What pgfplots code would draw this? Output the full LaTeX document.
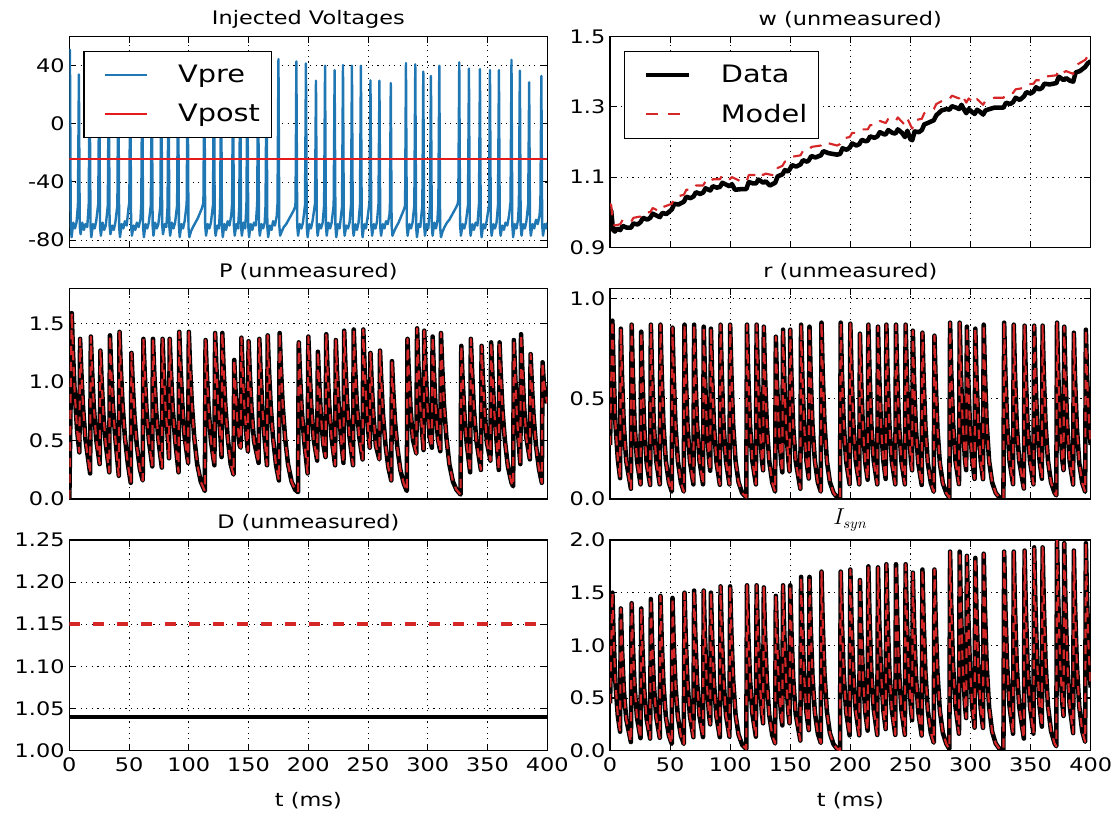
\documentclass[border=0pt]{standalone}
\usepackage{fontspec}
\setmainfont{DejaVu Sans}[FakeStretch=1.2]
\usepackage{pgfplots}
\usepackage{pgfplotstable}
\pgfplotsset{compat=1.18}

\definecolor{vblue}{HTML}{1F77B4}
\definecolor{vred}{HTML}{E41A1C}
\definecolor{mred}{HTML}{D62728}
\newcommand{\tf}{\fontsize{14}{16}\selectfont}
\newcommand{\lf}{\fontsize{18}{21}\selectfont}

% spike-driven traces, shared time grid: P, r, I_syn
\pgfplotstableread[row sep=\\]{
t P r I\\
0 0 .27 .45\\ 2 1.59 .89 1.50\\ 3 1.27 .64 1.08\\ 4.5 .91 .38 .65\\ 6.5 .59 .20 .33\\
8.4 .40 .105 .18\\ 9 1.37 .85 1.35\\ 10 1.10 .61 .97\\ 11.5 .78 .37 .58\\ 13.5 .51 .19 .30\\
17.4 .22 .052 .082\\ 18 1.39 .87 1.40\\ 19 1.11 .63 1.01\\ 20.5 .79 .37 .60\\ 22.5 .51 .19 .31\\
25.4 .30 .074 .119\\ 26 1.27 .835 1.35\\ 27 1.02 .60 .97\\ 28.5 .72 .36 .58\\ 30.5 .47 .18 .30\\
33.4 .23 .071 .115\\ 34 1.40 .87 1.44\\ 35 1.12 .63 1.04\\ 36.5 .80 .37 .62\\ 38.5 .52 .19 .32\\
41.4 .20 .074 .122\\ 42 1.43 .87 1.47\\ 43 1.14 .63 1.06\\ 44.5 .82 .37 .63\\ 46.5 .53 .19 .32\\ 49 .30 .084 .143\\
51.4 .14 .038 .065\\ 52 1.25 .855 1.45\\ 53 1.00 .62 1.04\\ 54.5 .71 .37 .62\\ 56.5 .46 .19 .32\\ 59 .26 .083 .141\\
61.4 .16 .038 .064\\ 62 1.37 .87 1.50\\ 63 1.10 .63 1.08\\ 64.5 .78 .37 .65\\ 66.5 .51 .19 .33\\
69.4 .28 .074 .128\\ 70 1.37 .87 1.52\\ 71 1.10 .63 1.09\\ 72.5 .78 .37 .65\\ 74.5 .51 .19 .33\\
77.4 .27 .074 .129\\ 78 1.37 .86 1.52\\ 79 1.10 .62 1.09\\ 80.5 .78 .37 .65\\ 82.5 .51 .19 .33\\
83.4 .35 .142 .25\\ 84 1.37 .85 1.50\\ 85 1.10 .61 1.08\\ 86.5 .78 .37 .65\\ 88.5 .51 .19 .33\\
91.4 .23 .072 .128\\ 92 1.43 .87 1.56\\ 93 1.14 .63 1.12\\ 94.5 .82 .37 .67\\ 96.5 .53 .19 .34\\
99.4 .31 .074 .133\\ 100 1.43 .87 1.56\\ 101 1.14 .63 1.12\\ 102.5 .82 .37 .67\\ 104.5 .53 .19 .34\\ 107 .30 .084 .151\\ 110 .15 .031 .056\\
113.4 .07 .009 .016\\ 114 1.36 .87 1.57\\ 115 1.09 .63 1.13\\ 116.5 .78 .37 .68\\ 118.5 .50 .19 .35\\
121.4 .29 .074 .133\\ 122 1.42 .87 1.57\\ 123 1.14 .63 1.13\\ 124.5 .81 .37 .68\\ 126.5 .53 .19 .35\\
127.4 .36 .144 .26\\ 128 1.42 .86 1.55\\ 129 1.14 .62 1.12\\ 130.5 .81 .37 .67\\ 132.5 .53 .19 .34\\ 135 .30 .083 .150\\
137.4 .21 .038 .068\\ 138 1.19 .81 1.47\\ 139 .95 .58 1.06\\ 140.5 .68 .35 .63\\ 142.5 .46 .18 .32\\
143.4 .44 .134 .24\\ 144 1.38 .845 1.57\\ 145 1.10 .61 1.13\\ 146.5 .79 .36 .68\\ 148.5 .51 .19 .35\\
149.4 .41 .139 .26\\ 150 1.35 .845 1.57\\ 151 1.08 .61 1.13\\ 152.5 .77 .36 .68\\ 154.5 .50 .19 .35\\
158.4 .31 .052 .096\\ 159 1.37 .87 1.65\\ 160 1.10 .63 1.19\\ 161.5 .78 .37 .71\\ 163.5 .51 .19 .36\\
165.4 .29 .103 .195\\ 166 1.40 .86 1.65\\ 167 1.12 .62 1.19\\ 168.5 .80 .37 .71\\ 170.5 .52 .19 .36\\ 173 .29 .083 .160\\
175.4 .16 .038 .073\\ 176 1.42 .88 1.70\\ 177 1.14 .63 1.22\\ 178.5 .81 .38 .73\\ 180.5 .53 .19 .37\\ 183 .30 .085 .165\\ 186 .15 .032 .061\\ 189 .08 .009 .017\\
191.4 .06 .004 .008\\ 192 1.34 .88 1.70\\ 193 1.07 .63 1.22\\ 194.5 .76 .38 .73\\ 196.5 .50 .19 .37\\
199.4 .22 .075 .145\\ 200 1.39 .875 1.72\\ 201 1.11 .63 1.24\\ 202.5 .79 .38 .74\\ 204.5 .51 .19 .38\\
207.4 .33 .074 .146\\ 208 1.26 .825 1.62\\ 209 1.01 .59 1.17\\ 210.5 .72 .35 .70\\ 212.5 .47 .18 .36\\
214.4 .36 .097 .19\\ 215 1.41 .87 1.75\\ 216 1.13 .63 1.26\\ 217.5 .80 .37 .75\\ 219.5 .52 .19 .39\\
222.4 .29 .074 .149\\ 223 1.36 .86 1.74\\ 224 1.09 .62 1.25\\ 225.5 .78 .37 .75\\ 227.5 .50 .19 .38\\
229.4 .31 .101 .205\\ 230 1.44 .87 1.77\\ 231 1.15 .63 1.27\\ 232.5 .82 .37 .76\\ 234.5 .53 .19 .39\\
237.4 .29 .074 .150\\ 238 1.45 .87 1.77\\ 239 1.16 .63 1.27\\ 240.5 .83 .37 .76\\ 242.5 .54 .19 .39\\
245.4 .34 .074 .150\\ 246 1.45 .87 1.77\\ 247 1.16 .63 1.27\\ 248.5 .83 .37 .76\\ 250.5 .54 .19 .39\\
251.4 .44 .144 .29\\ 252 1.25 .84 1.69\\ 253 1.00 .60 1.22\\ 254.5 .71 .36 .73\\ 256.5 .46 .18 .37\\
259.4 .34 .071 .144\\ 260 1.27 .83 1.72\\ 261 1.02 .60 1.24\\ 262.5 .72 .36 .74\\ 264.5 .47 .18 .38\\ 267 .27 .081 .167\\
269.4 .16 .037 .076\\ 270 1.18 .815 1.72\\ 271 .94 .59 1.24\\ 272.5 .67 .35 .74\\ 274.5 .44 .18 .38\\ 277 .25 .079 .167\\ 280 .13 .029 .062\\
282.4 .07 .008 .017\\ 283 1.37 .88 1.89\\ 284 1.10 .63 1.36\\ 285.5 .78 .38 .81\\ 287.5 .51 .19 .42\\
290.4 .39 .075 .161\\ 291 1.46 .88 1.89\\ 292 1.17 .63 1.36\\ 293.5 .83 .38 .81\\ 295.5 .54 .19 .42\\
296.4 .42 .145 .31\\ 297 1.44 .86 1.85\\ 298 1.15 .62 1.33\\ 299.5 .82 .37 .80\\ 301.5 .53 .19 .41\\
303.4 .44 .101 .218\\ 304 1.39 .85 1.83\\ 305 1.11 .61 1.32\\ 306.5 .79 .37 .79\\ 308.5 .51 .19 .40\\
310.4 .41 .100 .216\\ 311 1.42 .87 1.87\\ 312 1.14 .63 1.35\\ 313.5 .81 .37 .80\\ 315.5 .53 .19 .41\\ 318 .30 .084 .181\\ 321 .15 .031 .067\\ 324 .08 .009 .019\\
327.4 .04 .003 .006\\ 328 1.31 .88 1.89\\ 329 1.05 .63 1.36\\ 330.5 .75 .38 .81\\ 332.5 .48 .19 .42\\
335.4 .23 .075 .161\\ 336 1.37 .87 1.89\\ 337 1.10 .63 1.36\\ 338.5 .78 .37 .81\\ 340.5 .51 .19 .42\\
344.4 .25 .053 .115\\ 345 1.31 .865 1.90\\ 346 1.05 .62 1.37\\ 347.5 .75 .37 .82\\ 349.5 .48 .19 .42\\
352.4 .33 .074 .162\\ 353 1.34 .865 1.93\\ 354 1.07 .62 1.39\\ 355.5 .76 .37 .83\\ 357.5 .50 .19 .42\\
359.4 .25 .102 .228\\ 360 1.34 .865 1.93\\ 361 1.07 .62 1.39\\ 362.5 .76 .37 .83\\ 364.5 .50 .19 .42\\ 367 .28 .084 .187\\ 370 .14 .031 .069\\
371.4 .11 .019 .042\\ 372 1.36 .88 2.00\\ 373 1.09 .63 1.44\\ 374.5 .72 .38 .86\\ 376.5 .42 .19 .44\\
377.4 .30 .145 .33\\ 378 1.41 .86 1.97\\ 379 1.13 .62 1.42\\ 380.5 .80 .37 .85\\ 382.5 .52 .19 .43\\
385.4 .34 .073 .167\\ 386 1.24 .83 1.90\\ 387 .99 .60 1.37\\ 388.5 .71 .36 .82\\ 390.5 .46 .18 .42\\ 393 .26 .081 .184\\
395.4 .14 .037 .084\\ 396 1.17 .845 1.97\\ 397 1.00 .61 1.42\\ 398.5 .90 .40 .90\\ 400 .82 .27 .60\\
}\spk

% presynaptic voltage
\pgfplotstableread[row sep=\\]{
t V\\
0 35\\ 0.5 51\\ 1.2 -70\\ 1.9 -78\\ 3.3 -68\\ 4.7 -72\\ 6 -68\\
7.2 -56\\ 8 34\\ 8.7 -70\\ 9.4 -76\\ 10.8 -68\\ 12.2 -73\\ 13.5 -69\\ 15 -71\\
16.2 -56\\ 17 40\\ 17.7 -70\\ 18.4 -78\\ 19.8 -69\\ 21.2 -72\\ 22.5 -67\\
24.2 -55\\ 25 38\\ 25.7 -71\\ 26.4 -77\\ 27.8 -68\\ 29.2 -73\\ 30.5 -70\\
32.2 -56\\ 33 40\\ 33.7 -70\\ 34.4 -76\\ 35.8 -70\\ 37.2 -73\\ 38.5 -68\\
40.2 -56\\ 41 42\\ 41.7 -71\\ 42.4 -78\\ 43.8 -69\\ 45.2 -72\\ 46.5 -67\\ 48 -70\\ 49.5 -58\\
50.2 -54\\ 51 38\\ 51.7 -70\\ 52.4 -77\\ 53.8 -70\\ 55.2 -73\\ 56.5 -68\\ 58 -71\\ 59.5 -66\\
60.2 -55\\ 61 40\\ 61.7 -71\\ 62.4 -78\\ 63.8 -69\\ 65.2 -72\\ 66.5 -68\\
68.2 -56\\ 69 41\\ 69.7 -70\\ 70.4 -77\\ 71.8 -68\\ 73.2 -72\\ 74.5 -69\\
76.2 -56\\ 77 40\\ 77.7 -70\\ 78.4 -76\\ 79.8 -69\\ 81.2 -71\\
82.2 -57\\ 83 38\\ 83.7 -71\\ 84.4 -77\\ 85.8 -68\\ 87.2 -72\\ 88.5 -68\\
90.2 -56\\ 91 42\\ 91.7 -70\\ 92.4 -78\\ 93.8 -69\\ 95.2 -72\\ 96.5 -67\\
98.2 -55\\ 99 41\\ 99.7 -71\\ 100.4 -78\\ 101.8 -74\\ 103.5 -71\\ 105.5 -68\\ 107.5 -65\\ 109.5 -61\\ 111 -58\\
112.2 -54\\ 113 40\\ 113.7 -70\\ 114.4 -77\\ 115.8 -69\\ 117.2 -72\\ 118.5 -68\\
120.2 -56\\ 121 42\\ 121.7 -71\\ 122.4 -77\\ 123.8 -70\\ 125.2 -72\\
126.2 -57\\ 127 40\\ 127.7 -70\\ 128.4 -78\\ 129.8 -69\\ 131.2 -73\\ 132.5 -67\\ 134 -70\\ 135.5 -63\\
136.2 -55\\ 137 36\\ 137.7 -70\\ 138.4 -77\\ 139.8 -69\\ 141.2 -72\\
142.2 -57\\ 143 40\\ 143.7 -71\\ 144.4 -77\\ 145.8 -68\\ 147.2 -72\\
148.2 -56\\ 149 38\\ 149.7 -70\\ 150.4 -78\\ 151.8 -69\\ 153.2 -73\\ 154.5 -68\\ 156 -70\\
157.2 -55\\ 158 40\\ 158.7 -70\\ 159.4 -77\\ 160.8 -69\\ 162.2 -72\\ 163.5 -68\\
164.2 -56\\ 165 41\\ 165.7 -71\\ 166.4 -78\\ 167.8 -70\\ 169.2 -73\\ 170.5 -67\\ 172 -70\\ 173.5 -64\\
174.2 -55\\ 175 44.6\\ 175.7 -70\\ 176.4 -77\\ 177.8 -74\\ 179.5 -71\\ 181.5 -69\\ 183.5 -66\\ 185.5 -63\\ 187.5 -60\\ 189 -57\\
189.3 -54\\ 190 43\\ 190.7 -70\\ 191.4 -77\\ 192.8 -69\\ 194.2 -72\\ 195.5 -68\\
197.2 -56\\ 198 41.6\\ 198.7 -71\\ 199.4 -78\\ 200.8 -69\\ 202.2 -72\\ 203.5 -67\\
205.6 -55\\ 206.4 29.7\\ 207.1 -70\\ 207.8 -77\\ 209.2 -69\\ 210.6 -72\\ 212 -68\\
213.2 -56\\ 214 40\\ 214.7 -70\\ 215.4 -77\\ 216.8 -68\\ 218.2 -72\\ 219.5 -68\\
221.2 -56\\ 222 37\\ 222.7 -71\\ 223.4 -78\\ 224.8 -69\\ 226.2 -72\\
228.2 -57\\ 229 40.5\\ 229.7 -70\\ 230.4 -77\\ 231.8 -70\\ 233.2 -72\\ 234.5 -68\\
235.7 -56\\ 236.5 40\\ 237.2 -71\\ 237.9 -77\\ 239.3 -69\\ 240.7 -73\\ 242 -68\\
243.2 -56\\ 244 40\\ 244.7 -70\\ 245.4 -78\\ 246.8 -69\\ 248.2 -72\\ 249.5 -65\\
251.2 -54\\ 252 30\\ 252.7 -70\\ 253.4 -77\\ 254.8 -69\\ 256.2 -72\\ 257.5 -67\\
258.7 -55\\ 259.5 29.7\\ 260.2 -71\\ 260.9 -77\\ 262.3 -69\\ 263.7 -72\\ 265 -67\\ 266.5 -69\\ 268 -62\\
268.3 -55\\ 269 28\\ 269.7 -70\\ 270.4 -77\\ 271.8 -74\\ 273.5 -71\\ 275.5 -68\\ 277.5 -64\\ 279.5 -60\\ 280.8 -57\\
281 -54\\ 281.7 41.8\\ 282.4 -70\\ 283.1 -77\\ 284.5 -69\\ 285.9 -72\\ 287.2 -68\\
288.7 -56\\ 289.5 41\\ 290.2 -71\\ 290.9 -78\\ 292.3 -69\\ 293.7 -71\\
295.4 -56\\ 296.2 36\\ 296.9 -70\\ 297.6 -77\\ 299 -69\\ 300.4 -72\\
301.8 -57\\ 302.6 33\\ 303.3 -70\\ 304 -77\\ 305.4 -68\\ 306.8 -72\\ 308 -67\\
308.8 -55\\ 309.6 40\\ 310.3 -71\\ 311 -78\\ 312.4 -74\\ 314 -71\\ 316 -68\\ 318 -66\\ 320 -63\\ 322 -60\\ 324 -57\\ 325 -55\\
325.5 -52\\ 326.3 42.3\\ 327 -70\\ 327.7 -77\\ 329.1 -69\\ 330.5 -72\\ 331.8 -68\\
333.6 -56\\ 334.4 38\\ 335.1 -70\\ 335.8 -77\\ 337.2 -69\\ 338.6 -73\\ 340 -68\\ 341.5 -70\\
342.8 -55\\ 343.6 37.7\\ 344.3 -71\\ 345 -78\\ 346.4 -69\\ 347.8 -72\\ 349.2 -67\\
351.2 -56\\ 352 37\\ 352.7 -70\\ 353.4 -77\\ 354.8 -69\\ 356.2 -72\\ 357.5 -68\\
358.7 -56\\ 359.5 37\\ 360.2 -71\\ 360.9 -77\\ 362.3 -70\\ 363.7 -73\\ 365 -68\\ 366.5 -70\\ 368 -63\\
369.2 -54\\ 370 44\\ 370.7 -70\\ 371.4 -78\\ 372.8 -69\\ 374.2 -72\\ 375.5 -66\\
376.2 -55\\ 377 36.6\\ 377.7 -70\\ 378.4 -77\\ 379.8 -69\\ 381.2 -72\\ 382.5 -67\\
384 -55\\ 384.8 28.6\\ 385.5 -70\\ 386.2 -77\\ 387.6 -69\\ 389 -72\\ 390.5 -66\\ 392 -69\\ 393.5 -63\\
394.2 -54\\ 395 33\\ 395.7 -70\\ 396.4 -77\\ 397.8 -69\\ 399 -72\\ 400 -68\\
}\vpre

% w, data
\pgfplotstableread[row sep=\\]{
t w\\
0 1.008\\ 1 1.004\\ 2.5 0.95\\ 4 0.945\\ 6 0.953\\ 8.5 0.949\\ 10.5 0.961\\ 14 0.956\\ 17.5 0.956\\ 19.5 0.968\\
23 0.965\\ 25.5 0.972\\ 27.5 0.984\\ 31 0.979\\ 33.5 0.984\\ 35.5 0.996\\ 39 0.99\\ 41.5 0.986\\ 43.5 0.998\\ 47 0.995\\
51.5 1.008\\ 53.5 1.024\\ 57 1.022\\ 61.5 1.03\\ 63.5 1.044\\ 67 1.04\\ 69.5 1.045\\ 71.5 1.057\\ 75 1.052\\ 77.5 1.056\\
79.5 1.068\\ 83.5 1.062\\ 85.5 1.074\\ 89 1.07\\ 91.5 1.072\\ 93.5 1.084\\ 97 1.078\\ 99.5 1.074\\ 101.5 1.08\\ 104 1.064\\
110 1.066\\ 113.5 1.066\\ 115.5 1.086\\ 119 1.082\\ 121.5 1.082\\ 123.5 1.093\\ 127.5 1.084\\ 129.5 1.088\\ 133 1.076\\ 137.5 1.084\\
139.5 1.102\\ 143.5 1.108\\ 145.5 1.12\\ 148 1.116\\ 149.5 1.122\\ 151.5 1.134\\ 155 1.13\\ 158.5 1.136\\ 160.5 1.148\\ 164 1.144\\
165.5 1.148\\ 167.5 1.16\\ 171 1.156\\ 175.5 1.162\\ 177.5 1.174\\ 182 1.168\\ 189 1.164\\ 191.5 1.166\\ 193.5 1.182\\ 197 1.178\\
199.5 1.184\\ 201.5 1.196\\ 205 1.19\\ 207.5 1.194\\ 209.5 1.206\\ 213 1.202\\ 214.5 1.204\\ 216.5 1.216\\ 220 1.212\\ 222.5 1.216\\
224.5 1.228\\ 228 1.222\\ 229.5 1.222\\ 231.5 1.234\\ 235 1.226\\ 237.5 1.224\\ 239.5 1.236\\ 243 1.226\\ 245.5 1.214\\ 247.5 1.232\\
250 1.208\\ 251.5 1.205\\ 253.5 1.23\\ 257 1.228\\ 259.5 1.234\\ 261.5 1.25\\ 265 1.255\\ 269.5 1.262\\ 271.5 1.276\\ 276 1.29\\
280 1.294\\ 282.5 1.292\\ 284.5 1.302\\ 288 1.298\\ 290.5 1.294\\ 292.5 1.306\\ 295 1.29\\ 296.5 1.282\\ 298.5 1.294\\ 301 1.286\\
303.5 1.28\\ 305.5 1.292\\ 308 1.286\\ 310.5 1.278\\ 312.5 1.29\\ 316 1.294\\ 320 1.298\\ 327.5 1.298\\ 329.5 1.312\\ 333 1.308\\
335.5 1.314\\ 337.5 1.326\\ 341 1.32\\ 344.5 1.33\\ 346.5 1.342\\ 350 1.338\\ 352.5 1.344\\ 354.5 1.356\\ 357 1.35\\ 359.5 1.354\\
361.5 1.366\\ 366 1.364\\ 371.5 1.368\\ 373.5 1.386\\ 376 1.38\\ 377.5 1.376\\ 379.5 1.382\\ 383 1.374\\ 385.5 1.372\\ 387.5 1.398\\
391 1.402\\ 395.5 1.414\\ 397.5 1.424\\ 400 1.43\\
}\wdata

% w, model
\pgfplotstableread[row sep=\\]{
t m\\
0 1.024\\ 1 1.02\\ 2.5 0.968\\ 4 0.962\\ 8.5 0.966\\ 10.5 0.978\\ 17.5 0.972\\ 19.5 0.984\\ 25.5 0.988\\ 27.5 1.0\\
33.5 1.0\\ 35.5 1.012\\ 41.5 1.002\\ 43.5 1.014\\ 51.5 1.024\\ 53.5 1.042\\ 61.5 1.05\\ 63.5 1.064\\ 69.5 1.064\\ 71.5 1.076\\
77.5 1.076\\ 79.5 1.088\\ 83.5 1.082\\ 85.5 1.094\\ 91.5 1.094\\ 93.5 1.106\\ 99.5 1.094\\ 101.5 1.1\\ 110 1.086\\ 113.5 1.086\\
115.5 1.106\\ 121.5 1.106\\ 123.5 1.116\\ 127.5 1.106\\ 129.5 1.11\\ 137.5 1.104\\ 139.5 1.126\\ 143.5 1.132\\ 145.5 1.144\\ 149.5 1.148\\
151.5 1.158\\ 158.5 1.162\\ 160.5 1.174\\ 165.5 1.174\\ 167.5 1.186\\ 175.5 1.19\\ 177.5 1.2\\ 189 1.19\\ 191.5 1.194\\ 193.5 1.21\\
199.5 1.214\\ 201.5 1.226\\ 207.5 1.226\\ 209.5 1.236\\ 214.5 1.236\\ 216.5 1.248\\ 222.5 1.248\\ 224.5 1.26\\ 229.5 1.254\\ 231.5 1.266\\
237.5 1.258\\ 239.5 1.27\\ 245.5 1.248\\ 247.5 1.266\\ 251.5 1.238\\ 253.5 1.262\\ 259.5 1.266\\ 261.5 1.282\\ 269.5 1.294\\ 271.5 1.308\\
280 1.324\\ 282.5 1.322\\ 284.5 1.332\\ 290.5 1.324\\ 292.5 1.336\\ 296.5 1.312\\ 298.5 1.324\\ 303.5 1.31\\ 305.5 1.322\\ 310.5 1.306\\
312.5 1.318\\ 320 1.326\\ 327.5 1.326\\ 329.5 1.338\\ 335.5 1.34\\ 337.5 1.35\\ 344.5 1.354\\ 346.5 1.364\\ 352.5 1.366\\ 354.5 1.376\\
359.5 1.376\\ 361.5 1.386\\ 371.5 1.39\\ 373.5 1.406\\ 377.5 1.398\\ 379.5 1.402\\ 385.5 1.394\\ 387.5 1.418\\ 395.5 1.434\\ 397.5 1.444\\
400 1.45\\
}\wmodel

\pgfplotsset{
  panel/.style={
    scale only axis, height=158pt, anchor=south west,
    xmin=0, xmax=400, xtick={0,50,...,400},
    grid=major,
    grid style={black, line width=0.6pt, dash pattern=on 0.9pt off 3.3pt},
    axis line style={black, line width=1.1pt},
    major tick length=5pt, tick style={black, line width=0.8pt},
    tick label style={font=\tf}, title style={font=\tf, yshift=-3pt},
    label style={font=\tf},
    xticklabel style={yshift=-1.5pt},
    xlabel style={yshift=-9pt},
    /pgf/number format/assume math mode=true,
    legend image code/.code={\path (0pt,0pt); \draw[##1] (6pt,0pt) -- (37.7pt,0pt);},
    legend style={font=\lf, draw=black, line width=0.9pt, fill=white,
      at={(0,1)}, anchor=north west, xshift=10.5pt, yshift=-10.5pt,
      inner xsep=8.6pt, inner ysep=10.5pt, row sep=14.4pt, column sep=22.5pt,
      nodes={inner sep=0pt}},
    legend cell align=left,
  },
  left/.style={width=358.5pt},
  right/.style={width=360.5pt},
  prec1/.style={yticklabel style={/pgf/number format/.cd, fixed, fixed zerofill, precision=1}},
  prec2/.style={yticklabel style={/pgf/number format/.cd, fixed, fixed zerofill, precision=2}},
  data/.style={black, line width=3.4pt, line join=round},
  model/.style={mred, line width=1.6pt, line join=round, dash pattern=on 7pt off 5pt},
}

\begin{document}
\begin{tikzpicture}
\path[use as bounding box] (0pt,0pt) rectangle (838.5pt,611.25pt);

% === ROW 1 ===
\begin{axis}[panel, left, at={(52pt,425.75pt)}, xticklabels={},
    ymin=-85, ymax=60, ytick={-80,-40,0,40}, title={Injected Voltages}]
\addplot[vblue, line width=1.8pt, line join=round] table[x=t, y=V] {\vpre};
\addlegendentry{Vpre}
\addplot[vred, line width=1.2pt] coordinates {(0,-24) (400,-24)};
\addlegendentry{Vpost}
\end{axis}

\begin{axis}[panel, right, prec1, at={(457.5pt,425.75pt)}, xticklabels={},
    ymin=0.9, ymax=1.5, ytick={0.9,1.1,1.3,1.5}, title={w (unmeasured)}]
\addplot[data] table[x=t, y=w] {\wdata};
\addlegendentry{Data}
\addplot[model, dash pattern=on 9pt off 7pt] table[x=t, y=m] {\wmodel};
\addlegendentry{Model}
\end{axis}

% === ROW 2 ===
\begin{axis}[panel, left, prec1, at={(52pt,236.85pt)}, xticklabels={},
    ymin=0, ymax=1.8, ytick={0,0.5,1,1.5}, title={P (unmeasured)}]
\addplot[data] table[x=t, y=P] {\spk};
\addplot[model] table[x=t, y=P] {\spk};
\end{axis}

\begin{axis}[panel, right, prec1, at={(457.5pt,236.85pt)}, xticklabels={},
    ymin=0, ymax=1.05, ytick={0,0.5,1}, title={r (unmeasured)}]
\addplot[data] table[x=t, y=r] {\spk};
\addplot[model] table[x=t, y=r] {\spk};
\end{axis}

% === ROW 3 ===
\begin{axis}[panel, left, prec2, at={(52pt,48.25pt)},
    ymin=1, ymax=1.25, ytick={1,1.05,1.1,1.15,1.2,1.25},
    title={D (unmeasured)}, xlabel={t (ms)}]
\addplot[data] coordinates {(0,1.04) (400,1.04)};
\addplot[mred, line width=3pt, dash pattern=on 8pt off 10pt] coordinates {(0,1.15) (400,1.15)};
\end{axis}

\begin{axis}[panel, right, prec1, at={(457.5pt,48.25pt)},
    ymin=0, ymax=2, ytick={0,0.5,1,1.5,2},
    title={\fontsize{16}{18}\selectfont$I_{syn}$}, xlabel={t (ms)}]
\addplot[data] table[x=t, y=I] {\spk};
\addplot[model] table[x=t, y=I] {\spk};
\end{axis}
\end{tikzpicture}
\end{document}
